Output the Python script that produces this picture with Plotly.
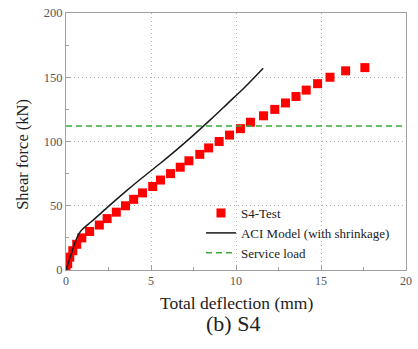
import plotly.graph_objects as go

# S4 test: total deflection (mm) vs shear force (kN)
test_deflection = [0, 0.1, 0.22, 0.4, 0.63, 0.93, 1.39, 1.96, 2.42, 2.96, 3.5, 3.98,
                   4.5, 5.1, 5.56, 6.15, 6.72, 7.23, 7.87, 8.39, 9.01, 9.62, 10.26,
                   10.85, 11.62, 12.28, 12.91, 13.53, 14.13, 14.8, 15.53, 16.45, 17.58]
test_shear = [0, 5, 10, 15, 20, 25, 30, 35, 40, 45, 50, 55, 60, 65, 70, 75, 80, 85,
              90, 95, 100, 105, 110, 115, 120, 125, 130, 135, 140, 145, 150, 155, 157.5]

# ACI model including shrinkage effects
aci_deflection = [0, 0.3, 0.55, 0.75, 0.95, 1.3, 1.7, 2.5, 3.5, 4.5, 5.5, 6.5, 7.5,
                  8.5, 9.5, 10.5, 11.6]
aci_shear = [0, 12, 22, 28, 31.5, 35.5, 40, 49.5, 61, 72, 82.5, 93.5, 105, 117, 129.5,
             142, 157]

# Service load level
service_load = 112
x_range = [0, 20]

serif = "Liberation Serif, Times New Roman, serif"
frame = "#a0a0a0"
grid = "#b0b0b0"

fig = go.Figure()
fig.add_trace(go.Scatter(
    x=test_deflection, y=test_shear, mode="markers", name="S4-Test",
    marker=dict(symbol="square", size=9, color="#ff0000", line=dict(width=0)),
))
fig.add_trace(go.Scatter(
    x=aci_deflection, y=aci_shear, mode="lines", name="ACI Model (with shrinkage)",
    line=dict(color="#1a1a1a", width=1.5, shape="spline", smoothing=0.8),
))
fig.add_trace(go.Scatter(
    x=x_range, y=[service_load, service_load], mode="lines", name="Service load",
    line=dict(color="#3aaa3a", width=1.5, dash="6px,4px"),
))

fig.update_layout(
    width=418, height=349,
    margin=dict(l=66, r=6, t=13, b=79),
    paper_bgcolor="white", plot_bgcolor="white",
    font=dict(family=serif, size=12, color="#444444"),
    showlegend=True,
    legend=dict(
        x=0.397, y=0.28, xanchor="left", yanchor="top",
        bgcolor="rgba(0,0,0,0)", borderwidth=0,
        font=dict(family=serif, size=13, color="#222222"),
        tracegroupgap=0, itemwidth=30,
    ),
    xaxis=dict(
        range=x_range, dtick=5, tick0=0,
        showline=True, linecolor=frame, linewidth=1, mirror=True,
        ticks="inside", ticklen=5, tickcolor=frame,
        showgrid=True, gridcolor=grid, griddash="1px,3px", gridwidth=1,
        zeroline=False,
        minor=dict(dtick=2.5, ticks="inside", ticklen=3, tickcolor=frame, showgrid=False),
        tickfont=dict(family=serif, size=12, color="#555555"),
    ),
    yaxis=dict(
        range=[0, 200], dtick=50, tick0=0,
        showline=True, linecolor=frame, linewidth=1, mirror=True,
        ticks="inside", ticklen=5, tickcolor=frame,
        showgrid=True, gridcolor=grid, griddash="1px,3px", gridwidth=1,
        zeroline=False,
        minor=dict(dtick=25, ticks="inside", ticklen=3, tickcolor=frame, showgrid=False),
        tickfont=dict(family=serif, size=12.5, color="#555555"),
    ),
    annotations=[
        dict(text="Total deflection (mm)", xref="paper", yref="paper",
             x=0.5, y=-0.13, xanchor="center", yanchor="middle", showarrow=False,
             font=dict(family=serif, size=17.5, color="#222222")),
        dict(text="(b) S4", xref="paper", yref="paper",
             x=0.49, y=-0.207, xanchor="center", yanchor="middle", showarrow=False,
             font=dict(family=serif, size=22, color="#222222")),
        dict(text="Shear force (kN)", xref="paper", yref="paper",
             x=-0.128, y=0.45, xanchor="center", yanchor="middle", showarrow=False,
             textangle=-90,
             font=dict(family=serif, size=16.5, color="#222222")),
    ],
)

fig.write_html("out.html")
